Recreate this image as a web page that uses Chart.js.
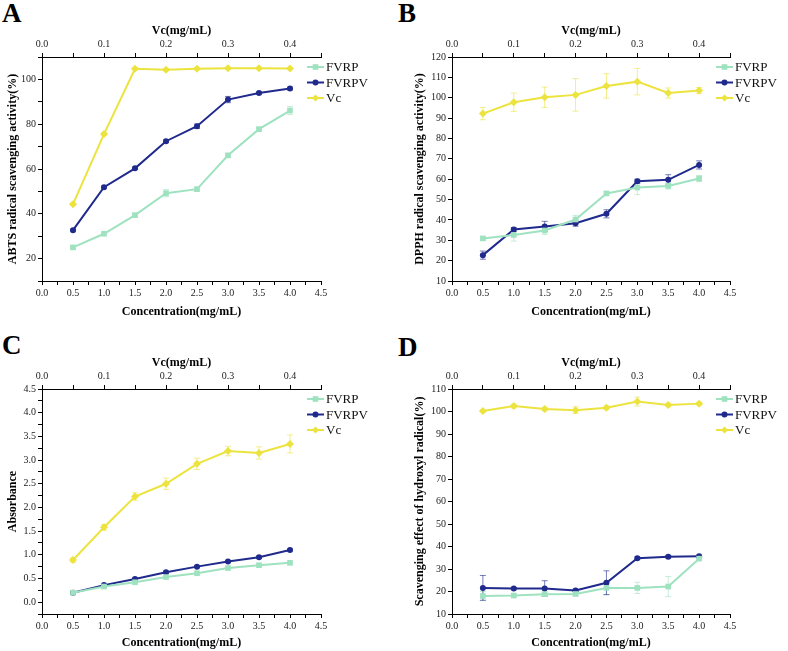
<!DOCTYPE html>
<html lang="en">
<head>
<meta charset="UTF-8">
<title>Antioxidant activity</title>
<script src="https://cdn.jsdelivr.net/npm/chart.js"></script>
<style>
  body { margin: 0; background: #fff; width: 788px; height: 651px; position: relative; overflow: hidden; }
  .panel { position: absolute; }
  .letter { position: absolute; font: bold 27px "Liberation Serif", serif; line-height: 1; color: #000; }
</style>
</head>
<body>
  <div class="letter" style="left:2px;top:0px">A</div>
  <div class="letter" style="left:398px;top:0px">B</div>
  <div class="letter" style="left:2px;top:332px">C</div>
  <div class="letter" style="left:398px;top:334px">D</div>

  <div class="panel" style="left:0;top:0"><canvas id="chartA" width="394" height="320"></canvas></div>
  <div class="panel" style="left:394px;top:0"><canvas id="chartB" width="394" height="320"></canvas></div>
  <div class="panel" style="left:0;top:320px"><canvas id="chartC" width="394" height="331"></canvas></div>
  <div class="panel" style="left:394px;top:320px"><canvas id="chartD" width="394" height="331"></canvas></div>

<script>
  // concentrations
  const conc = [0.5, 1.0, 1.5, 2.0, 2.5, 3.0, 3.5, 4.0];
  const vcConc = [0.05, 0.1, 0.15, 0.2, 0.25, 0.3, 0.35, 0.4];

  // A - ABTS
  const abtsFVRP = [25.0, 31.1, 39.4, 49.2, 51.0, 66.1, 77.8, 86.1];
  const abtsFVRPV = [32.7, 51.9, 60.3, 72.4, 79.1, 91.0, 93.9, 95.9];
  const abtsVc = [44.3, 75.6, 104.7, 104.3, 104.7, 105.0, 105.0, 104.9];
  const abtsFVRPErr = [0.5, 0.5, 0.8, 1.6, 0.8, 0.8, 0.8, 1.8];
  const abtsFVRPVErr = [0.5, 0.5, 0.5, 0.6, 1.0, 1.4, 0.5, 0.6];
  const abtsVcErr = [0.5, 0.6, 0.4, 0.5, 0.3, 0.3, 0.3, 0.3];

  // B - DPPH
  const dpphFVRP = [30.9, 32.6, 34.8, 40.2, 53.0, 55.9, 56.7, 60.3];
  const dpphFVRPV = [22.7, 35.3, 36.8, 38.4, 43.0, 59.0, 59.7, 67.0];
  const dpphVc = [92.2, 97.8, 100.2, 101.4, 105.8, 107.9, 102.3, 103.5];
  const dpphFVRPErr = [1.0, 3.0, 2.0, 2.0, 1.0, 3.5, 1.5, 1.5];
  const dpphFVRPVErr = [2.0, 1.0, 2.5, 1.5, 2.0, 1.0, 2.5, 2.0];
  const dpphVcErr = [3.0, 4.5, 5.0, 8.0, 6.0, 6.5, 2.5, 1.5];

  // C - reducing power
  const absFVRP = [0.20, 0.33, 0.42, 0.53, 0.61, 0.72, 0.78, 0.83];
  const absFVRPV = [0.20, 0.36, 0.49, 0.63, 0.75, 0.86, 0.95, 1.10];
  const absVc = [0.89, 1.58, 2.23, 2.50, 2.92, 3.19, 3.15, 3.34];
  const absFVRPErr = [0.02, 0.02, 0.02, 0.02, 0.02, 0.02, 0.03, 0.03];
  const absFVRPVErr = [0.02, 0.02, 0.02, 0.02, 0.02, 0.02, 0.02, 0.02];
  const absVcErr = [0.05, 0.06, 0.08, 0.12, 0.12, 0.10, 0.13, 0.19];

  // D - hydroxyl radical
  const ohFVRP = [18.0, 18.2, 18.8, 18.9, 21.6, 21.6, 22.2, 34.6];
  const ohFVRPV = [21.6, 21.3, 21.3, 20.5, 23.9, 34.8, 35.4, 35.7];
  const ohVc = [100.2, 102.4, 101.1, 100.6, 101.7, 104.4, 102.9, 103.5];
  const ohFVRPErr = [2.0, 0.5, 1.0, 0.8, 3.0, 2.5, 4.5, 0.5];
  const ohFVRPVErr = [5.5, 0.5, 3.5, 0.5, 5.3, 0.5, 0.5, 0.5];
  const ohVcErr = [0.5, 0.8, 0.8, 1.5, 0.8, 2.0, 0.8, 0.6];

  const colFVRP = "#9fe2c0";
  const colFVRPV = "#1f2a8c";
  const colVc = "#ece33f";
  const serif = "'Liberation Serif', 'Times New Roman', serif";

  // error bars drawn under the lines
  const errorBars = {
    id: "errorBars",
    beforeDatasetsDraw(chart) {
      const ctx = chart.ctx;
      const ys = chart.scales.y;
      chart.data.datasets.forEach(ds => {
        const xs = chart.scales[ds.xAxisID];
        ctx.save();
        ctx.strokeStyle = ds.errColor;
        ctx.lineWidth = 1;
        ds.data.forEach((p, j) => {
          const e = ds.errors[j];
          const px = xs.getPixelForValue(p.x);
          const t = ys.getPixelForValue(p.y + e);
          const b = ys.getPixelForValue(p.y - e);
          ctx.beginPath();
          ctx.moveTo(px, t); ctx.lineTo(px, b);
          ctx.moveTo(px - 3, t); ctx.lineTo(px + 3, t);
          ctx.moveTo(px - 3, b); ctx.lineTo(px + 3, b);
          ctx.stroke();
        });
        ctx.restore();
      });
    }
  };

  function marker(ctx, style, x, y, color) {
    ctx.fillStyle = color;
    ctx.beginPath();
    if (style === "circle") ctx.arc(x, y, 3, 0, Math.PI * 2);
    else if (style === "rect") ctx.rect(x - 2.8, y - 2.8, 5.6, 5.6);
    else { ctx.moveTo(x, y - 3.6); ctx.lineTo(x + 3.6, y); ctx.lineTo(x, y + 3.6); ctx.lineTo(x - 3.6, y); ctx.closePath(); }
    ctx.fill();
  }

  // legend at the top right edge of the frame
  const sideLegend = {
    id: "sideLegend",
    afterDraw(chart) {
      const ctx = chart.ctx;
      const r = chart.chartArea.right, top = chart.chartArea.top;
      ctx.save();
      ctx.font = "13px " + serif;
      ctx.textBaseline = "middle";
      chart.data.datasets.forEach((ds, i) => {
        const y = top + 10 + i * 15.5;
        ctx.strokeStyle = ds.borderColor;
        ctx.lineWidth = 2;
        ctx.beginPath(); ctx.moveTo(r - 14, y); ctx.lineTo(r + 3, y); ctx.stroke();
        marker(ctx, ds.pointStyle, r - 5.5, y, ds.borderColor);
        ctx.fillStyle = "#111";
        ctx.fillText(ds.label, r + 5, y + 1);
      });
      ctx.restore();
    }
  };

  function series(label, xs, ys, errs, color, style, axis) {
    return {
      label: label,
      data: xs.map((x, i) => ({ x: x, y: ys[i] })),
      errors: errs,
      errColor: color + "99",
      xAxisID: axis,
      borderColor: color,
      backgroundColor: color,
      borderWidth: 2,
      pointStyle: style,
      pointRadius: style === "circle" ? 3 : 4,
      pointBorderWidth: 0,
      tension: 0
    };
  }

  const tickFont = { family: serif, size: 10 };
  const titleFont = { family: serif, size: 12, weight: "bold" };
  const multiple = (v, step) => Math.abs(v / step - Math.round(v / step)) < 1e-6;

  function makePanel(id, p) {
    return new Chart(document.getElementById(id), {
      type: "line",
      data: {
        datasets: [
          series("FVRP", conc, p.fvrp, p.fvrpErr, colFVRP, "rect", "x"),
          series("FVRPV", conc, p.fvrpv, p.fvrpvErr, colFVRPV, "circle", "x"),
          series("Vc", vcConc, p.vc, p.vcErr, colVc, "rectRot", "x2")
        ]
      },
      options: {
        responsive: false,
        animation: false,
        layout: { padding: { left: 0, right: p.padRight, top: 0, bottom: 0 } },
        plugins: { legend: { display: false }, tooltip: { enabled: false } },
        scales: {
          x: {
            type: "linear", position: "bottom", min: 0, max: 4.5,
            grid: { drawOnChartArea: false, color: "#000", tickLength: 4 },
            border: { color: "#000", width: 1 },
            ticks: {
              stepSize: 0.25, autoSkip: false, maxRotation: 0, padding: 2, color: "#222", font: tickFont,
              callback: v => multiple(v, 0.5) ? v.toFixed(1) : ""
            },
            title: { display: true, text: "Concentration(mg/mL)", color: "#000", font: titleFont, padding: { top: 0, bottom: 1 } },
            afterFit: s => { s.height = p.hb; }
          },
          x2: {
            type: "linear", position: "top", min: 0, max: 0.45,
            grid: { drawOnChartArea: false, color: "#000", tickLength: 4 },
            border: { color: "#000", width: 1 },
            ticks: {
              stepSize: 0.05, autoSkip: false, maxRotation: 0, padding: 3, color: "#222", font: tickFont,
              callback: v => multiple(v, 0.1) && v < 0.44 ? v.toFixed(1) : ""
            },
            title: { display: true, text: "Vc(mg/mL)", color: "#000", font: titleFont, padding: { top: p.topTitle, bottom: 0 } },
            afterFit: s => { s.height = p.ht; }
          },
          y: {
            type: "linear", min: p.ymin, max: p.ymax,
            grid: { drawOnChartArea: false, color: "#000", tickLength: 4 },
            border: { color: "#000", width: 1 },
            ticks: {
              stepSize: p.ystep, autoSkip: false, padding: 2, color: "#222", font: tickFont,
              callback: p.ylabel
            },
            title: { display: true, text: p.ytitle, color: "#000", font: titleFont, padding: { top: p.yTitlePad, bottom: 0 } },
            afterFit: s => { s.width = p.yw; }
          }
        }
      },
      plugins: [errorBars, sideLegend]
    });
  }

  makePanel("chartA", {
    fvrp: abtsFVRP, fvrpv: abtsFVRPV, vc: abtsVc,
    fvrpErr: abtsFVRPErr, fvrpvErr: abtsFVRPVErr, vcErr: abtsVcErr,
    ymin: 10, ymax: 110, ystep: 10,
    ylabel: v => (v % 20 === 0 && v >= 20 && v <= 100) ? v : "",
    ytitle: "ABTS radical scavenging activity(%)",
    yw: 42, padRight: 73, ht: 57, hb: 39, topTitle: 24, yTitlePad: 6
  });

  makePanel("chartB", {
    fvrp: dpphFVRP, fvrpv: dpphFVRPV, vc: dpphVc,
    fvrpErr: dpphFVRPErr, fvrpvErr: dpphFVRPVErr, vcErr: dpphVcErr,
    ymin: 10, ymax: 120, ystep: 10,
    ylabel: v => v,
    ytitle: "DPPH radical scavenging activity(%)",
    yw: 58, padRight: 58, ht: 57, hb: 39, topTitle: 24, yTitlePad: 19
  });

  makePanel("chartC", {
    fvrp: absFVRP, fvrpv: absFVRPV, vc: absVc,
    fvrpErr: absFVRPErr, fvrpvErr: absFVRPVErr, vcErr: absVcErr,
    ymin: -0.25, ymax: 4.5, ystep: 0.25,
    ylabel: v => (v >= 0 && multiple(v, 0.5)) ? v.toFixed(1) : "",
    ytitle: "Absorbance",
    yw: 42, padRight: 73, ht: 69, hb: 37, topTitle: 36, yTitlePad: 6
  });

  makePanel("chartD", {
    fvrp: ohFVRP, fvrpv: ohFVRPV, vc: ohVc,
    fvrpErr: ohFVRPErr, fvrpvErr: ohFVRPVErr, vcErr: ohVcErr,
    ymin: 10, ymax: 110, ystep: 10,
    ylabel: v => v,
    ytitle: "Scavenging effect of hydroxyl radical(%)",
    yw: 58, padRight: 58, ht: 69, hb: 37, topTitle: 36, yTitlePad: 19
  });
</script>
</body>
</html>
